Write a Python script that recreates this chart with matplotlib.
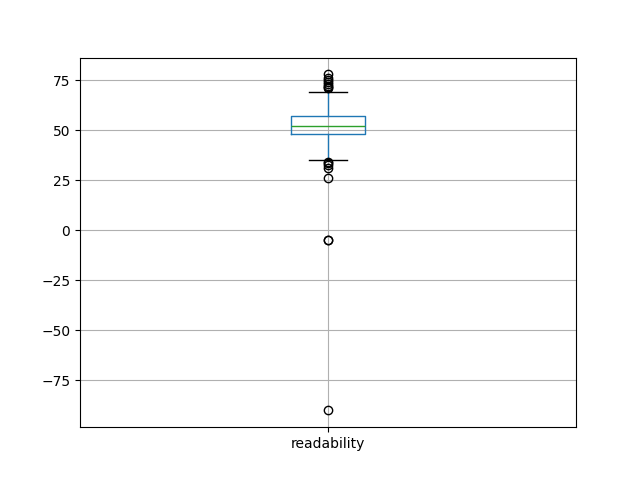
import matplotlib

matplotlib.use("Agg")
import matplotlib.pyplot as plt
import pandas as pd

# readability scores (sorted)
readability = [
    -90, -5, -5, 26, 31, 32.5, 33.5, 34.2, 35, 40, 45,
    48, 48.5, 49, 49.5, 50, 50.5, 51, 51, 51.5, 51.5, 52,
    52, 52.5, 53, 53.5, 54, 54.5, 55, 55.5, 56, 56.5, 57,
    57, 60, 64, 69, 71, 71.5, 72, 73, 74, 75, 76, 78,
]

df = pd.DataFrame({"readability": readability})

fig, ax = plt.subplots(figsize=(6.4, 4.8), dpi=100)
df.boxplot(column=["readability"], ax=ax)

fig.savefig("out.png")
plt.close(fig)
